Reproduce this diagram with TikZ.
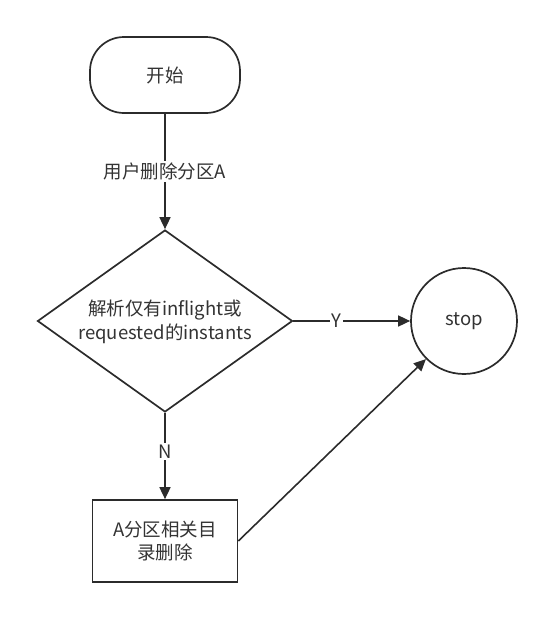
\documentclass[tikz,border=0pt]{standalone}
\usepackage{fontspec}
\setmainfont{Noto Sans CJK SC}
\usetikzlibrary{arrows.meta,shapes.geometric}
\definecolor{ln}{HTML}{2B2B2B}
\definecolor{tx}{HTML}{333333}
\tikzset{
  base/.style={draw=ln, line width=1.7pt, text=tx, font=\fontsize{18.5}{23}\selectfont, align=center, inner sep=0pt},
  startbox/.style={base, rounded corners=34pt, minimum width=150pt, minimum height=76pt},
  decision/.style={base, diamond, minimum width=255pt, minimum height=182pt, aspect=1.4},
  procbox/.style={base, rectangle, minimum width=145pt, minimum height=82pt},
  endcirc/.style={base, circle, minimum size=106pt},
  conn/.style={draw=ln, line width=1.6pt, -{Triangle[length=12pt,width=11pt]}},
  lbl/.style={fill=white, text=tx, font=\fontsize{18.5}{23}\selectfont, inner sep=2pt}
}
\begin{document}
\begin{tikzpicture}[x=1pt,y=-1pt]
\useasboundingbox (0,0) rectangle (553,619);
\node[startbox] (start) at (165,75) {开始};
\node[decision] (dec) at (165,321) {};
\node[text=tx, font=\fontsize{18.5}{24}\selectfont, align=center] (dectext) at (165,322) {解析仅有inflight或\\requested的instants};
\node[endcirc] (stop) at (464,321) {stop};
\node[procbox] (del) at (165,541) {A分区相关目\\录删除};
\draw[conn] (start) -- node[lbl] {用户删除分区A} (dec);
\draw[conn] (dec.east) -- node[lbl, pos=0.37] {Y} (stop.west);
\draw[conn] (dec.south) -- node[lbl, pos=0.45] {N} (del.north);
\draw[conn] (del.east) -- (stop.south west);
\end{tikzpicture}
\end{document}
